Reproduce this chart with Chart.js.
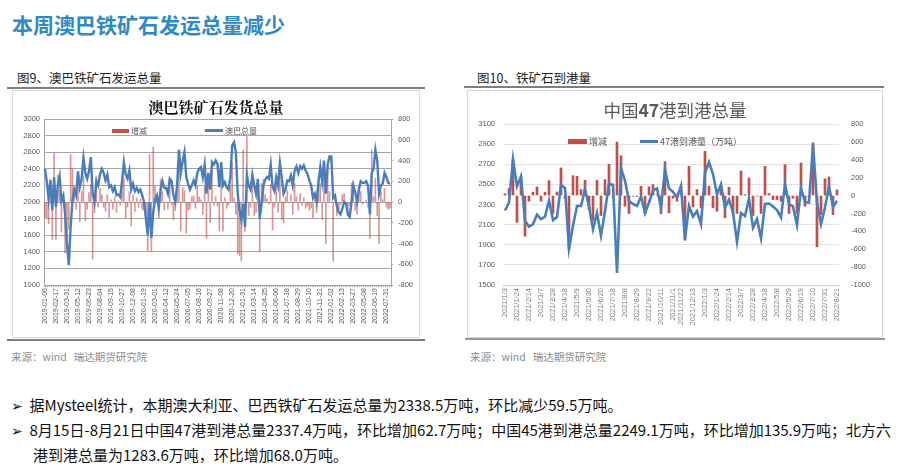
<!DOCTYPE html>
<html>
<head>
<meta charset="utf-8">
<script src="https://cdn.jsdelivr.net/npm/chart.js@4.4.0/dist/chart.umd.min.js"></script>
<style>
  body { margin: 0; width: 900px; height: 476px; background: #fff; position: relative; overflow: hidden;
         font-family: "Noto Sans CJK SC", "Noto Sans", sans-serif; }
  .abs { position: absolute; white-space: nowrap; }
  .title { left: 12px; top: 9px; font-size: 21px; font-weight: bold; color: #2f8ac4; }
  .caption { font-size: 12.5px; color: #222; }
  .rule { position: absolute; height: 2px; background: #7f7f7f; }
  .box { position: absolute; border: 1px solid #d9d9d9; box-sizing: border-box; }
  .box canvas { position: absolute; left: 0; top: 0; }
  .source { font-size: 10.5px; color: #8c8c8c; }
  .legend { font-size: 8px; color: #595959; display: flex; align-items: center; }
  .sw-bar { display: inline-block; height: 4px; background: #c0504d; margin-right: 2px; }
  .sw-line { display: inline-block; height: 2.5px; background: #4a7ebb; margin-right: 2px; }
  .bullet { font-size: 15px; color: #111; }
  .arrow { font-family: "DejaVu Sans"; font-size: 14px; }
</style>
</head>
<body>
<div class="abs title">本周澳巴铁矿石发运总量减少</div>

<div class="abs caption" style="left:17px; top:68px;">图9、澳巴铁矿石发运总量</div>
<div class="rule" style="left:7px; top:87px; width:418px;"></div>
<div class="box" id="boxL" style="left:12px; top:90px; width:408px; height:248px;">
  <canvas id="shipChart"></canvas>
  <div class="abs" style="left:0; width:406px; top:5px; text-align:center; font-size:15px; font-weight:bold; color:#111; font-family:'Noto Serif CJK SC','Noto Sans CJK SC',serif;">澳巴铁矿石发货总量</div>
  <div class="abs legend" style="left:99px; top:34px;"><span class="sw-bar" style="width:17px;"></span>增减</div>
  <div class="abs legend" style="left:192px; top:34px;"><span class="sw-line" style="width:18px;"></span>澳巴总量</div>
</div>
<div class="rule" style="left:7px; top:339px; width:418px;"></div>
<div class="abs source" style="left:11px; top:349px;">来源：wind&nbsp;&nbsp;&nbsp;瑞达期货研究院</div>

<div class="abs caption" style="left:477px; top:68px;">图10、铁矿石到港量</div>
<div class="rule" style="left:464px; top:86px; width:420px;"></div>
<div class="box" id="boxR" style="left:467px; top:90px; width:416px; height:248px;">
  <canvas id="arrivalChart"></canvas>
  <div class="abs" style="left:0; width:414px; top:6px; text-align:center; font-size:17.5px; color:#595959;">中国<b>47</b>港到港总量</div>
  <div class="abs legend" style="left:100px; top:44px; font-size:9px;"><span class="sw-bar" style="width:19px; height:4.5px;"></span>增减</div>
  <div class="abs legend" style="left:172px; top:44px; font-size:9px;"><span class="sw-line" style="width:18px;"></span>47港到港量（万吨）</div>
</div>
<div class="rule" style="left:465px; top:338px; width:420px; height:1.5px; background:#9a9a9a;"></div>
<div class="abs source" style="left:470px; top:349px;">来源：wind&nbsp;&nbsp;&nbsp;瑞达期货研究院</div>

<div class="abs bullet" style="left:11px; top:394px;"><span class="arrow">➢</span>&nbsp;&nbsp;据Mysteel统计，本期澳大利亚、巴西铁矿石发运总量为2338.5万吨，环比减少59.5万吨。</div>
<div class="abs bullet" style="left:11px; top:419px;"><span class="arrow">➢</span>&nbsp;&nbsp;8月15日-8月21日中国47港到港总量2337.4万吨，环比增加62.7万吨；中国45港到港总量2249.1万吨，环比增加135.9万吨；北方六</div>
<div class="abs bullet" style="left:33px; top:444px;">港到港总量为1283.6万吨，环比增加68.0万吨。</div>

<script>
// 图9 澳巴铁矿石发运总量 (weekly, 2019-01-06 .. 2022-08-14)
const shipTicks = [
	"2019-01-06", "2019-02-17", "2019-03-31", "2019-05-12", "2019-06-23", "2019-08-04", "2019-09-15", "2019-10-27",
	"2019-12-08", "2020-01-19", "2020-03-01", "2020-04-12", "2020-05-24", "2020-07-05", "2020-08-16", "2020-09-27",
	"2020-11-08", "2020-12-20", "2021-01-31", "2021-03-14", "2021-04-25", "2021-06-06", "2021-07-18", "2021-08-29",
	"2021-10-10", "2021-11-21", "2022-01-02", "2022-02-13", "2022-03-27", "2022-05-08", "2022-06-19", "2022-07-31",
];
const shipTotal = [
	2400, 2250, 2040, 2260, 1900, 2300, 1940, 2200, 2310, 2020,
	2080, 1850, 1500, 1240, 1700, 2020, 2150, 2080, 2370, 2180,
	2280, 2530, 2350, 2280, 2370, 2540, 2100, 2000, 2250, 2200,
	2330, 2400, 2350, 2260, 2330, 2180, 2200, 2130, 2180, 2080,
	2090, 2060, 2250, 2480, 2330, 2280, 2380, 2150, 2220, 2130,
	2170, 2120, 2150, 2080, 2000, 1800, 1600, 2000, 1570, 1880,
	2030, 2080, 1930, 2150, 2250, 2170, 2170, 2100, 2280, 2250,
	2080, 2000, 2200, 2630, 2350, 2490, 2600, 2300, 2220, 2150,
	2200, 2260, 2200, 2350, 2400, 2420, 2300, 2450, 2100, 2350,
	2150, 2480, 2450, 2500, 2460, 2180, 2480, 2200, 2240, 2180,
	2150, 2300, 2680, 2720, 2600, 2100, 1900, 1780, 1980, 1700,
	2330, 2200, 2150, 2330, 2200, 2100, 2280, 1800, 1980, 2200,
	2270, 2300, 2280, 2450, 2180, 2130, 2300, 2200, 2470, 2300,
	2100, 2150, 2260, 2250, 2320, 2200, 2380, 2430, 2350, 2430,
	2400, 2440, 2380, 2340, 2260, 2200, 2050, 2100, 2000, 2240,
	2420, 2250, 2500, 2100, 2450, 2550, 2550, 2050, 2080, 1950,
	1880, 1850, 1920, 2000, 1980, 1850, 1820, 2000, 2200, 2120,
	2000, 2150, 2250, 2230, 2230, 2250, 2200, 1850, 2350, 2400,
	2630, 2500, 2100, 2200, 2220, 2350, 2300, 2230, 2220,
];
const shipChange = [
	-150, -150, -210, 220, -360, 470, -360, 260, 110, -290,
	60, -490, -350, -260, 460, 320, 130, -70, 290, -190,
	100, 250, -180, -70, 90, 170, -550, -100, 250, -50,
	130, 70, -50, -90, 70, -150, 20, -70, 50, -100,
	10, -30, 190, 230, -150, -50, 100, -230, 70, -90,
	40, -50, 30, -70, -80, -200, -470, 460, -475, 530,
	150, 50, -150, 220, 100, -80, 0, -70, 180, -30,
	-170, -80, 200, 430, -280, 140, 110, -300, -80, -70,
	50, 60, -60, 150, 50, 20, -120, 150, -350, 250,
	-200, 330, -30, 50, -40, -280, 300, -280, 40, -60,
	-30, 150, 380, 40, -120, -500, -520, -570, 500, -280,
	630, -130, -50, 180, -130, -100, 180, -480, 180, 220,
	70, 30, -20, 170, -270, -50, 170, -100, 270, -170,
	-200, 50, 110, -10, 70, -120, 180, 50, -80, 80,
	-30, 40, -60, -40, -80, -60, -150, 50, -100, 240,
	180, -170, 250, -400, 350, 100, 0, -570, 30, -130,
	-70, -30, 70, 80, -20, -130, -30, 180, 200, -80,
	-120, 150, 100, -20, 0, 20, -50, -350, 500, 50,
	230, -130, -400, 100, 20, 130, -50, -70, -60,
];

// 图10 中国47港到港总量 (weekly, 2021/1/3 .. 2022/8/21)
const arrivalTicks = [
	"2021/1/3", "2021/1/24", "2021/2/14", "2021/3/7", "2021/3/28", "2021/4/18", "2021/5/9", "2021/5/30",
	"2021/6/20", "2021/7/18", "2021/8/8", "2021/8/29", "2021/9/22", "2021/10/11", "2021/11/1", "2021/11/22",
	"2021/12/13", "2022/1/3", "2022/1/24", "2022/2/14", "2022/3/7", "2022/3/28", "2022/4/18", "2022/5/8",
	"2022/5/29", "2022/6/19", "2022/7/10", "2022/7/31", "2022/8/21",
];
const arrivalTotal = [
	2240, 2320, 2750, 2480, 2580, 2140, 2080, 2105, 2200, 2155,
	2180, 2340, 2145, 2175, 2495, 2465, 1860, 2090, 2285, 2285,
	2450, 2285, 2055, 2215, 1990, 2235, 2505, 2495, 1620, 2660,
	2535, 2335, 2305, 2285, 2380, 2215, 2320, 2440, 2460, 2270,
	2650, 2460, 2425, 2370, 2485, 1955, 2285, 2180, 2235, 2105,
	2615, 2720, 2600, 2400, 2500, 2270, 2350, 2220, 1930, 2215,
	2185, 2360, 2070, 2155, 1965, 2305, 2310, 2280, 2245, 2170,
	2500, 2305, 2280, 2095, 2460, 2325, 2320, 2896, 2324, 2105,
	2270, 2484, 2275, 2337,
];
const arrivalChange = [
	20, 78, 400, -300, 200, -455, -63, 37, 97, -63,
	37, 167, -200, 40, 309, -30, -600, 223, 216, 67,
	171, -156, -275, 171, -223, 178, 349, -20, 598, 446,
	-119, -200, -7, -10, 104, -200, 97, 123, 10, -200,
	379, -193, -30, -63, 104, -500, 327, -126, 67, -137,
	494, 104, -137, -175, 93, -249, 93, -200, -200, 275,
	10, 197, -223, -7, -200, 327, 22, -45, -45, -63,
	346, -200, -30, -200, 364, -119, -20, 590, -572, -212,
	186, 208, -212, 63,
];

const tickFont = { family: "Liberation Sans", size: 7.5 };
const plain = (v) => String(v);

function sizeCanvas(id, boxId) {
	const box = document.getElementById(boxId);
	const canvas = document.getElementById(id);
	canvas.style.width = box.clientWidth + "px";
	canvas.style.height = box.clientHeight + "px";
	return canvas.getContext("2d");
}

// Left chart: thin bars + heavy line, darker grid
const shipCtx = sizeCanvas("shipChart", "boxL");
new Chart(shipCtx, {
	data: {
		labels: shipTotal.map((_, i) => i),
		datasets: [
			{
				type: "line",
				label: "澳巴总量",
				data: shipTotal,
				yAxisID: "y",
				borderColor: "#4a7ebb",
				borderWidth: 2.4,
				pointRadius: 0,
				tension: 0,
				order: 1,
			},
			{
				type: "bar",
				label: "增减",
				data: shipChange,
				yAxisID: "y1",
				backgroundColor: "rgba(192, 80, 77, 0.6)",
				barThickness: 1,
				order: 2,
			},
		],
	},
	options: {
		responsive: true,
		maintainAspectRatio: false,
		animation: false,
		layout: { padding: { top: 28, left: 0, right: 0, bottom: 0 } },
		plugins: { legend: { display: false }, title: { display: false }, tooltip: { enabled: false } },
		scales: {
			x: {
				type: "category",
				grid: { drawOnChartArea: false, drawTicks: true, tickLength: 2, color: "#a6a6a6" },
				border: { color: "#a6a6a6" },
				ticks: {
					autoSkip: false,
					maxRotation: 90,
					minRotation: 90,
					padding: 1,
					font: { family: "Liberation Sans", size: 7 },
					color: "#595959",
					callback: (v, i) => (i % 6 === 0 && shipTicks[i / 6] ? shipTicks[i / 6] : ""),
				},
				afterFit: (scale) => { scale.height = 52; },
			},
			y: {
				position: "left",
				min: 1000,
				max: 3000,
				ticks: { stepSize: 200, font: tickFont, color: "#595959", padding: 4, callback: plain },
				grid: { color: "#a6a6a6", drawTicks: false },
				border: { color: "#a6a6a6" },
				afterFit: (scale) => { scale.width = 31; },
			},
			y1: {
				position: "right",
				min: -800,
				max: 800,
				ticks: { stepSize: 200, font: tickFont, color: "#595959", padding: 5, callback: plain },
				grid: { drawOnChartArea: false, drawTicks: true, tickLength: 2, color: "#a6a6a6" },
				border: { color: "#a6a6a6" },
				afterFit: (scale) => { scale.width = 28; },
			},
		},
	},
});

// Right chart: light grid, wider bars
const arrivalTickAt = {};
arrivalTicks.forEach((t, k) => {
	arrivalTickAt[Math.round((k * (arrivalTotal.length - 1)) / (arrivalTicks.length - 1))] = t;
});

const arrivalCtx = sizeCanvas("arrivalChart", "boxR");
new Chart(arrivalCtx, {
	data: {
		labels: arrivalTotal.map((_, i) => i),
		datasets: [
			{
				type: "line",
				label: "47港到港量（万吨）",
				data: arrivalTotal,
				yAxisID: "y",
				borderColor: "#4a7ebb",
				borderWidth: 2.6,
				pointRadius: 0,
				tension: 0,
				order: 1,
			},
			{
				type: "bar",
				label: "增减",
				data: arrivalChange,
				yAxisID: "y1",
				backgroundColor: "#c0504d",
				barThickness: 2,
				order: 2,
			},
		],
	},
	options: {
		responsive: true,
		maintainAspectRatio: false,
		animation: false,
		layout: { padding: { top: 33, left: 0, right: 0, bottom: 0 } },
		plugins: { legend: { display: false }, title: { display: false }, tooltip: { enabled: false } },
		scales: {
			x: {
				type: "category",
				grid: { drawOnChartArea: false, drawTicks: true, tickLength: 2, color: "#d9d9d9" },
				border: { color: "#d9d9d9" },
				ticks: {
					autoSkip: false,
					maxRotation: 90,
					minRotation: 90,
					padding: 1,
					font: { family: "Liberation Sans", size: 7.5 },
					color: "#7f7f7f",
					callback: (v, i) => arrivalTickAt[i] || "",
				},
				afterFit: (scale) => { scale.height = 52; },
			},
			y: {
				position: "left",
				min: 1500,
				max: 3100,
				ticks: { stepSize: 200, font: tickFont, color: "#595959", padding: 8, callback: plain },
				grid: { color: "#e3e3e3", drawTicks: false },
				border: { display: false },
				afterFit: (scale) => { scale.width = 35; },
			},
			y1: {
				position: "right",
				min: -1000,
				max: 800,
				ticks: { stepSize: 200, font: tickFont, color: "#595959", padding: 12, callback: plain },
				grid: { drawOnChartArea: false, drawTicks: false },
				border: { display: false },
				afterFit: (scale) => { scale.width = 43; },
			},
		},
	},
});
</script>
</body>
</html>
